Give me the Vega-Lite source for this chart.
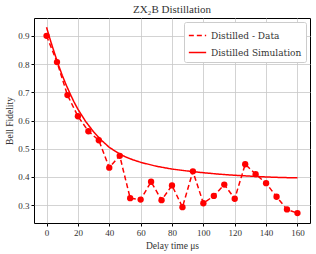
{
  "$schema": "https://vega.github.io/schema/vega-lite/v6.json",
  "width": 276,
  "height": 205,
  "autosize": "none",
  "padding": {"left": 34, "top": 18, "right": 6, "bottom": 31},
  "config": {
    "font": "Liberation Serif",
    "view": {"stroke": "black", "strokeWidth": 1},
    "legend": {"labelFont": "DejaVu Serif", "labelFontSize": 9, "labelColor": "#333"},
    "axis": {"labelFont": "Liberation Serif", "titleFont": "Liberation Serif", "labelFontSize": 9, "titleFontSize": 9.5, "titleFontWeight": "normal", "labelColor": "#333", "titleColor": "#333", "domain": false, "tickColor": "black", "tickSize": 3, "gridColor": "#c8c8c8", "gridWidth": 0.8}
  },
  "title": {"text": "ZX₂B Distillation", "font": "Liberation Serif", "fontSize": 11, "fontWeight": "normal", "color": "#333", "offset": 3},
  "data": {"values": [
    {"t": 0, "f": 0.90, "s": "Distilled - Data"},
    {"t": 6.67, "f": 0.807, "s": "Distilled - Data"},
    {"t": 13.33, "f": 0.69, "s": "Distilled - Data"},
    {"t": 20, "f": 0.615, "s": "Distilled - Data"},
    {"t": 26.67, "f": 0.562, "s": "Distilled - Data"},
    {"t": 33.33, "f": 0.53, "s": "Distilled - Data"},
    {"t": 40, "f": 0.433, "s": "Distilled - Data"},
    {"t": 46.67, "f": 0.475, "s": "Distilled - Data"},
    {"t": 53.33, "f": 0.325, "s": "Distilled - Data"},
    {"t": 60, "f": 0.32, "s": "Distilled - Data"},
    {"t": 66.67, "f": 0.383, "s": "Distilled - Data"},
    {"t": 73.33, "f": 0.318, "s": "Distilled - Data"},
    {"t": 80, "f": 0.37, "s": "Distilled - Data"},
    {"t": 86.67, "f": 0.293, "s": "Distilled - Data"},
    {"t": 93.33, "f": 0.42, "s": "Distilled - Data"},
    {"t": 100, "f": 0.307, "s": "Distilled - Data"},
    {"t": 106.67, "f": 0.333, "s": "Distilled - Data"},
    {"t": 113.33, "f": 0.373, "s": "Distilled - Data"},
    {"t": 120, "f": 0.323, "s": "Distilled - Data"},
    {"t": 126.67, "f": 0.445, "s": "Distilled - Data"},
    {"t": 133.33, "f": 0.41, "s": "Distilled - Data"},
    {"t": 140, "f": 0.378, "s": "Distilled - Data"},
    {"t": 146.67, "f": 0.33, "s": "Distilled - Data"},
    {"t": 153.33, "f": 0.285, "s": "Distilled - Data"},
    {"t": 160, "f": 0.272, "s": "Distilled - Data"},
    {"t": 0, "f": 0.93, "s": "Distilled Simulation"},
    {"t": 2.5, "f": 0.883, "s": "Distilled Simulation"},
    {"t": 5, "f": 0.84, "s": "Distilled Simulation"},
    {"t": 7.5, "f": 0.798, "s": "Distilled Simulation"},
    {"t": 10, "f": 0.76, "s": "Distilled Simulation"},
    {"t": 12.5, "f": 0.726, "s": "Distilled Simulation"},
    {"t": 15, "f": 0.695, "s": "Distilled Simulation"},
    {"t": 17.5, "f": 0.666, "s": "Distilled Simulation"},
    {"t": 20, "f": 0.64, "s": "Distilled Simulation"},
    {"t": 25, "f": 0.596, "s": "Distilled Simulation"},
    {"t": 30, "f": 0.56, "s": "Distilled Simulation"},
    {"t": 35, "f": 0.53, "s": "Distilled Simulation"},
    {"t": 40, "f": 0.505, "s": "Distilled Simulation"},
    {"t": 45, "f": 0.487, "s": "Distilled Simulation"},
    {"t": 50, "f": 0.472, "s": "Distilled Simulation"},
    {"t": 55, "f": 0.461, "s": "Distilled Simulation"},
    {"t": 60, "f": 0.452, "s": "Distilled Simulation"},
    {"t": 70, "f": 0.438, "s": "Distilled Simulation"},
    {"t": 80, "f": 0.428, "s": "Distilled Simulation"},
    {"t": 90, "f": 0.421, "s": "Distilled Simulation"},
    {"t": 100, "f": 0.415, "s": "Distilled Simulation"},
    {"t": 110, "f": 0.41, "s": "Distilled Simulation"},
    {"t": 120, "f": 0.406, "s": "Distilled Simulation"},
    {"t": 130, "f": 0.403, "s": "Distilled Simulation"},
    {"t": 140, "f": 0.4, "s": "Distilled Simulation"},
    {"t": 150, "f": 0.398, "s": "Distilled Simulation"},
    {"t": 160, "f": 0.397, "s": "Distilled Simulation"}
  ]},
  "encoding": {
    "x": {"field": "t", "type": "quantitative", "scale": {"domain": [-8, 168], "nice": false, "zero": false}, "axis": {"values": [0, 20, 40, 60, 80, 100, 120, 140, 160], "title": "Delay time μs", "titlePadding": 3}},
    "y": {"field": "f", "type": "quantitative", "scale": {"domain": [0.237, 0.963], "nice": false, "zero": false}, "axis": {"values": [0.3, 0.4, 0.5, 0.6, 0.7, 0.8, 0.9], "format": ".1f", "title": "Bell Fidelity", "titlePadding": 3}}
  },
  "layer": [
    {
      "mark": {"type": "line", "strokeWidth": 1.5},
      "encoding": {
        "color": {"field": "s", "type": "nominal", "scale": {"range": ["#ff0000", "#ff0000"]}, "legend": {"title": null, "orient": "top-right", "symbolType": "stroke", "strokeColor": "#ccc", "fillColor": "white", "padding": 4, "cornerRadius": 2, "symbolSize": 300, "symbolStrokeWidth": 1.5, "offset": 4}},
        "strokeDash": {"field": "s", "type": "nominal", "scale": {"range": [[5, 3], [1, 0]]}}
      }
    },
    {
      "transform": [{"filter": "datum.s == 'Distilled - Data'"}],
      "mark": {"type": "circle", "size": 40, "color": "#ff0000", "opacity": 1},
      "encoding": {}
    }
  ]
}
